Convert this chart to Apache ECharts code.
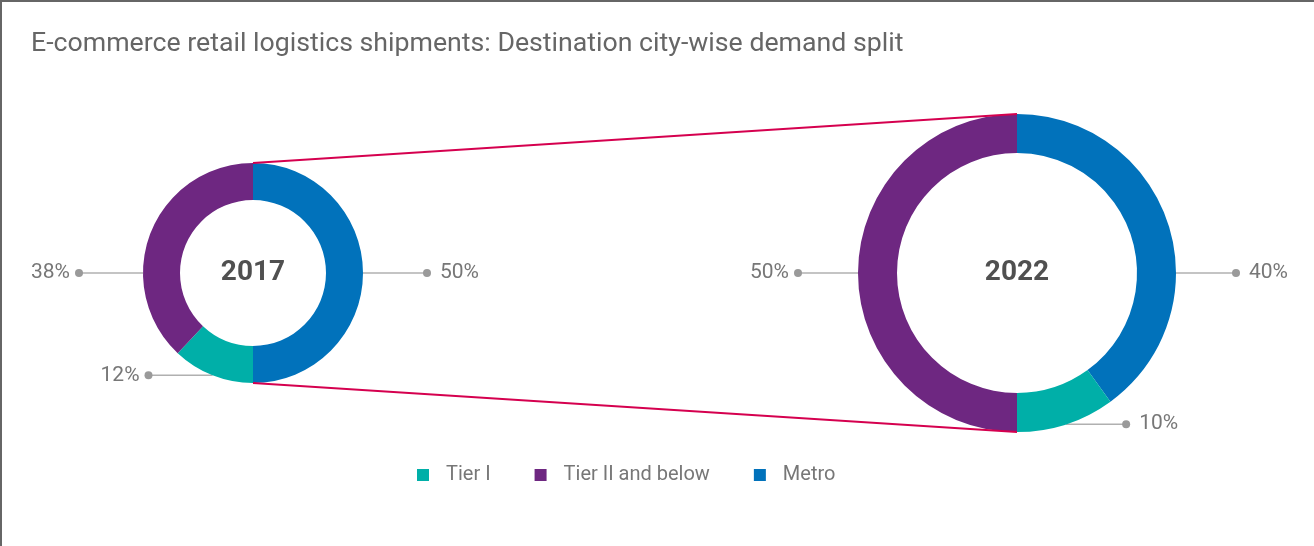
<!DOCTYPE html>
<html>
<head>
<meta charset="utf-8">
<script src="https://cdn.jsdelivr.net/npm/echarts@6/dist/echarts.min.js"></script>
<style>
html,body{margin:0;padding:0;background:#fff;}
#chart{width:1314px;height:546px;}
</style>
</head>
<body>
<div id="chart"></div>
<script>
const titleText = 'E-commerce retail logistics shipments: Destination city-wise demand split';
const categories = ['Metro', 'Tier I', 'Tier II and below'];
const legendOrder = ['Tier I', 'Tier II and below', 'Metro'];
const years = ['2017', '2022'];
const share2017 = [50, 12, 38];
const share2022 = [40, 10, 50];
const colorMap = { 'Metro': '#0172BB', 'Tier I': '#00AFA8', 'Tier II and below': '#6E2781' };

const shares = [share2017, share2022];
const pies = [
  { center: [253, 273], radius: [73, 110] },
  { center: [1017, 273], radius: [120, 159] }
];
const LINE_LEN = [64, 60];
const FONT = 'Roboto, "Liberation Sans", sans-serif';

function anchorOf(seriesIndex, dataIndex) {
  const vals = shares[seriesIndex];
  const total = vals.reduce((a, b) => a + b, 0);
  let before = 0;
  for (let i = 0; i < dataIndex; i++) before += vals[i];
  const mid = (before + vals[dataIndex] / 2) / total * Math.PI * 2;
  const p = pies[seriesIndex];
  const cx = p.center[0], cy = p.center[1], R = p.radius[1];
  const side = Math.sin(mid) >= 0 ? 1 : -1;
  let ax, ay;
  if (categories[dataIndex] === 'Tier I') {
    ax = cx + R * Math.sin(mid);
    ay = cy - R * Math.cos(mid);
  } else {
    ax = cx + side * R;
    ay = cy;
  }
  return { ax, ay, side };
}

const series = years.map((y, si) => ({
  type: 'pie',
  name: y,
  center: pies[si].center,
  radius: pies[si].radius,
  startAngle: 90,
  clockwise: true,
  avoidLabelOverlap: false,
  silent: true,
  emphasis: { disabled: true },
  data: categories.map((c, i) => ({ name: c, value: shares[si][i], itemStyle: { color: colorMap[c] } })),
  label: {
    show: true,
    position: 'outside',
    formatter: (p) => {
      const a = anchorOf(si, p.dataIndex);
      return a.side > 0 ? '{dot|}{tR|' + p.value + '%}' : '{tL|' + p.value + '%}{dot|}';
    },
    rich: {
      dot: { width: 8, height: 8, borderRadius: 4, backgroundColor: '#9a9a9a' },
      tR: { fontSize: 21, color: '#777', fontFamily: FONT, padding: [0, 0, 0, 9] },
      tL: { fontSize: 21, color: '#777', fontFamily: FONT, padding: [0, 5, 0, 0] }
    }
  },
  labelLine: { show: true, lineStyle: { color: '#b0b0b0', width: 1.5 } },
  labelLayout: (params) => {
    const a = anchorOf(si, params.dataIndex);
    const ex = a.ax + a.side * LINE_LEN[si];
    return {
      x: ex - a.side * 4,
      y: a.ay,
      align: a.side > 0 ? 'left' : 'right',
      verticalAlign: 'middle',
      labelLinePoints: [[a.ax, a.ay], [(a.ax + ex) / 2, a.ay], [ex, a.ay]]
    };
  }
}));

const graphics = [
  { type: 'rect', shape: { x: 1, y: 1, width: 3000, height: 3000 }, style: { fill: 'none', stroke: '#666', lineWidth: 2 }, silent: true }
];
[-1, 1].forEach(s => {
  graphics.push({
    type: 'line', z: 100, silent: true,
    shape: {
      x1: pies[0].center[0], y1: pies[0].center[1] + s * pies[0].radius[1],
      x2: pies[1].center[0], y2: pies[1].center[1] + s * pies[1].radius[1]
    },
    style: { stroke: '#D5004F', lineWidth: 2 }
  });
});
years.forEach((y, si) => {
  graphics.push({
    type: 'text', z: 100, silent: true,
    x: pies[si].center[0], y: pies[si].center[1],
    style: { text: y, align: 'center', verticalAlign: 'middle', fontSize: 28, fontWeight: 'bold', fill: '#505050', fontFamily: FONT }
  });
});

const chart = echarts.init(document.getElementById('chart'), null, { renderer: 'canvas' });
chart.setOption({
  animation: false,
  backgroundColor: '#fff',
  title: {
    text: titleText, left: 26, top: 26,
    textStyle: { fontSize: 26.7, fontWeight: 'normal', color: '#666', fontFamily: FONT }
  },
  legend: {
    data: legendOrder, left: 412, top: 460, icon: 'rect', itemWidth: 12, itemHeight: 12, itemGap: 44,
    textStyle: { fontSize: 20, color: '#777', fontFamily: FONT, padding: [0, 0, 0, 12] },
    selectedMode: false
  },
  graphic: graphics,
  series: series
});
</script>
</body>
</html>
